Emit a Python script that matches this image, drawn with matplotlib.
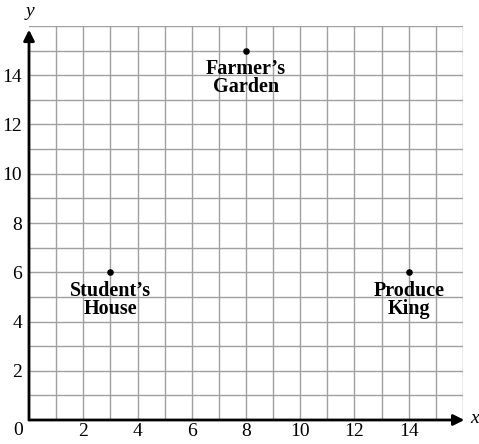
import matplotlib
matplotlib.use("Agg")
import matplotlib.pyplot as plt

# places on the map
names = ["Farmer\u2019s\nGarden", "Student\u2019s\nHouse", "Produce\nKing"]
xs = [8, 3, 14]
ys = [15, 6, 6]

xticks = [2, 4, 6, 8, 10, 12, 14]
yticks = [2, 4, 6, 8, 10, 12, 14]

plt.rcParams['font.family'] = ['Liberation Serif', 'DejaVu Serif']

fig = plt.figure(figsize=(4.79, 4.44), dpi=100)
ax = fig.add_axes([29 / 479, 24 / 444, 434 / 479, 394 / 444])
ax.set_xlim(0, 16)
ax.set_ylim(0, 16)

# grid every unit
for i in range(1, 17):
    ax.axvline(i, color='#a0a0a0', lw=1.0, zorder=1)
    ax.axhline(i, color='#a0a0a0', lw=1.0, zorder=1)

for s in ax.spines.values():
    s.set_visible(False)

# axes with arrows
ax.annotate('', xy=(16.05, 0), xytext=(0, 0),
            arrowprops=dict(arrowstyle='-|>', lw=2, color='black', mutation_scale=16,
                            shrinkA=0, shrinkB=0), annotation_clip=False, zorder=3)
ax.annotate('', xy=(0, 15.85), xytext=(0, 0),
            arrowprops=dict(arrowstyle='-|>', lw=2, color='black', mutation_scale=16,
                            shrinkA=0, shrinkB=0), annotation_clip=False, zorder=3)

ax.set_xticks(xticks)
ax.set_yticks(yticks)
ax.tick_params(axis='x', length=0, labelsize=14, pad=2)
ax.tick_params(axis='y', length=0, labelsize=14, pad=5)
fig.text(18 / 479, 1 - 430 / 444, "0", fontsize=14, ha='center', va='center')

fig.text(475 / 479, 1 - 418 / 444, "x", fontsize=14, style='italic', ha='center', va='center')
fig.text(30 / 479, 1 - 12 / 444, "y", fontsize=14, style='italic', ha='center', va='center')

ax.scatter(xs, ys, s=14, color='black', zorder=4)
for n, x, y in zip(names, xs, ys):
    ax.text(x, y - 0.35, n, fontsize=14.5, fontweight='bold', ha='center', va='top',
            linespacing=0.85, zorder=4)

fig.savefig("out.png", dpi=100)
